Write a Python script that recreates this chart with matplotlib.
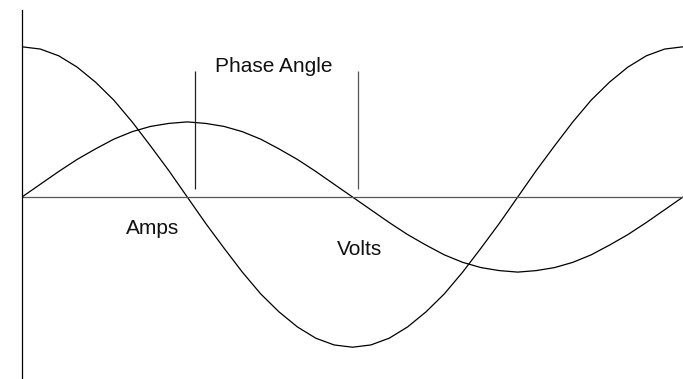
import matplotlib.pyplot as plt

# angle in degrees, one full cycle
angle = [0, 10, 20, 30, 40, 50, 60, 70, 80, 90, 100, 110, 120, 130, 140, 150, 160, 170, 180,
         190, 200, 210, 220, 230, 240, 250, 260, 270, 280, 290, 300, 310, 320, 330, 340, 350, 360]

volts = [2.00, 1.97, 1.88, 1.73, 1.53, 1.29, 1.00, 0.68, 0.35, 0.00, -0.35, -0.68, -1.00,
         -1.29, -1.53, -1.73, -1.88, -1.97, -2.00, -1.97, -1.88, -1.73, -1.53, -1.29, -1.00,
         -0.68, -0.35, 0.00, 0.35, 0.68, 1.00, 1.29, 1.53, 1.73, 1.88, 1.97, 2.00]

amps = [0.00, 0.17, 0.34, 0.50, 0.64, 0.77, 0.87, 0.94, 0.98, 1.00, 0.98, 0.94, 0.87, 0.77,
        0.64, 0.50, 0.34, 0.17, 0.00, -0.17, -0.34, -0.50, -0.64, -0.77, -0.87, -0.94, -0.98,
        -1.00, -0.98, -0.94, -0.87, -0.77, -0.64, -0.50, -0.34, -0.17, 0.00]

phase_marks = [94, 183]
labels = ["Phase Angle", "Amps", "Volts"]
label_pos = [(137, 1.667), (71, -0.493), (184, -0.773)]

plt.rcParams['font.family'] = ['Liberation Sans', 'DejaVu Sans']

fig = plt.figure(figsize=(6.83, 3.79), dpi=100)
ax = fig.add_axes([22 / 683, 1 / 379, 661 / 683, 368 / 379])

ax.plot(angle, volts, color='black', linewidth=0.9)
ax.plot(angle, amps, color='black', linewidth=0.9)
ax.axhline(0, color='#555555', linewidth=0.9)
ax.vlines(phase_marks, 0.107, 1.68, colors=['#222222', '#555555'], linewidth=0.9)

for txt, (x, y) in zip(labels, label_pos):
    ax.text(x, y, txt, fontsize=15, ha='center', va='baseline', color='#111111')

ax.set_xlim(0, 360)
ax.set_ylim(-2.41, 2.49)
for s in ['top', 'right', 'bottom']:
    ax.spines[s].set_visible(False)
ax.spines['left'].set_linewidth(0.9)
ax.set_xticks([])
ax.set_yticks([])

fig.savefig('out.png', dpi=100)
